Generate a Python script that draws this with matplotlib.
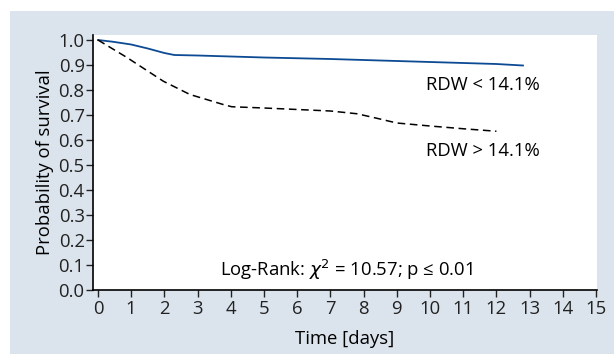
import matplotlib.pyplot as plt
from matplotlib.patches import Rectangle
from matplotlib import font_manager

# Kaplan-Meier style curves
low_days = [0, 0.45, 1.0, 1.5, 2.0, 2.3, 3.0, 4.0, 5.0, 6.0, 7.0, 8.0, 9.0, 10.0, 11.0, 12.0, 12.8]
low_surv = [1.0, 0.993, 0.982, 0.966, 0.948, 0.940, 0.938, 0.934, 0.930, 0.927, 0.924, 0.920, 0.916, 0.912, 0.908, 0.904, 0.898]

high_days = [0, 0.86, 1.97, 2.77, 3.77, 4.03, 5.0, 6.0, 7.0, 7.8, 8.3, 9.0, 10.0, 11.0, 12.0]
high_surv = [1.0, 0.931, 0.835, 0.782, 0.742, 0.733, 0.728, 0.722, 0.716, 0.705, 0.690, 0.668, 0.656, 0.645, 0.635]

x_ticks = list(range(0, 16))
y_ticks = [i / 10 for i in range(0, 11)]

names = {f.name for f in font_manager.fontManager.ttflist}
font = 'Liberation Sans Narrow' if 'Liberation Sans Narrow' in names else 'Open Sans'
plt.rcParams['font.family'] = [font, 'DejaVu Sans']
fs = 13.3
plt.rcParams['font.size'] = fs

bg = '#dbe4ed'
fig = plt.figure(figsize=(6.14, 3.54), dpi=100)
fig.patches.append(Rectangle((10 / 614, 0), 1, 1 - 11 / 354, transform=fig.transFigure,
                             facecolor=bg, edgecolor='none', zorder=-10))

ax = fig.add_axes([93 / 614, 64 / 354, 504 / 614, 255 / 354])
ax.set_facecolor('white')

ax.plot(low_days, low_surv, color='#0d4a94', lw=1.3)
ax.plot(high_days, high_surv, color='black', lw=1.1, dashes=(5, 3))

ax.set_xlim(-0.15, 15.03)
ax.set_ylim(0, 1.02)
ax.set_xticks(x_ticks)
ax.set_yticks(y_ticks)
ax.set_yticklabels([f'{v:.1f}' for v in y_ticks])
for s in ['top', 'right']:
    ax.spines[s].set_visible(False)
for s in ['left', 'bottom']:
    ax.spines[s].set_linewidth(1.2)
ax.tick_params(length=5, width=1, pad=2, labelsize=fs, colors='#222222')
ax.tick_params(axis='y', pad=1)

ax.set_xlabel('Time [days]', fontsize=fs, labelpad=9)
ax.set_ylabel('Probability of survival', fontsize=fs, labelpad=3)

ax.text(11.6, 0.82, 'RDW < 14.1%', ha='center', va='center', fontsize=fs)
ax.text(11.6, 0.557, 'RDW > 14.1%', ha='center', va='center', fontsize=fs)
ax.text(7.47, 0.08, r'Log-Rank: $\chi^2$ = 10.57; p ≤ 0.01', ha='center', va='center', fontsize=fs)

fig.savefig('out.png', dpi=100)
